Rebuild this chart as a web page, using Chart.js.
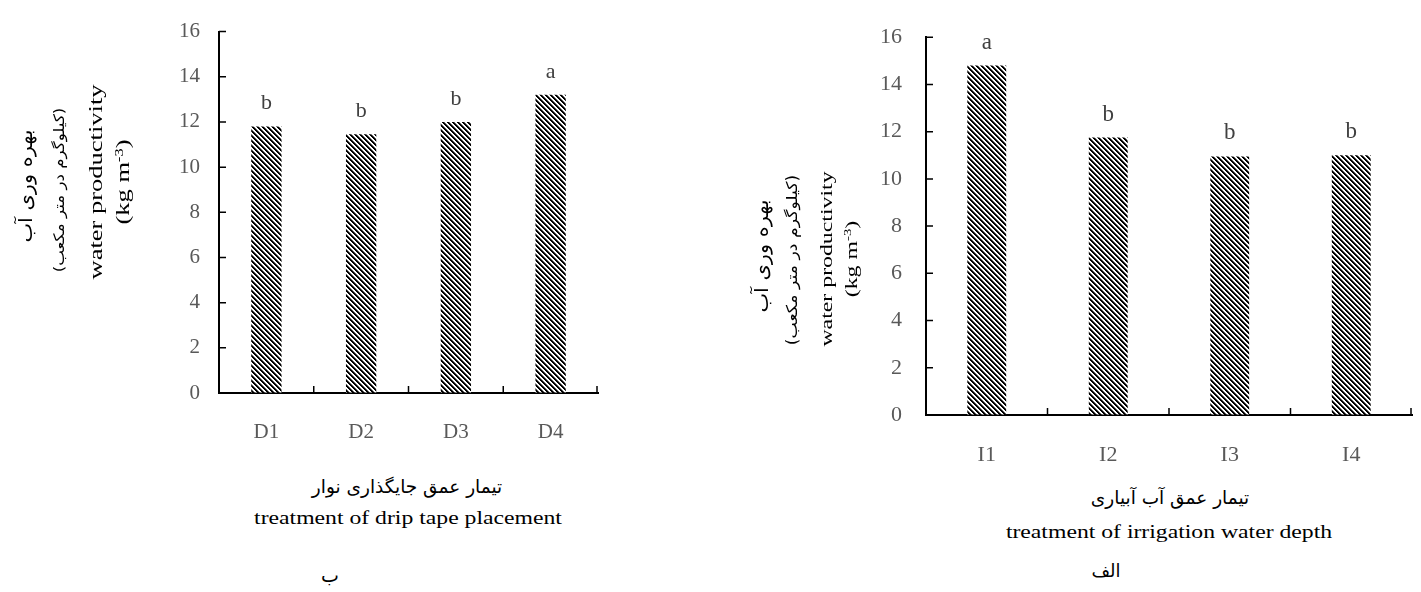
<!DOCTYPE html>
<html>
<head>
<meta charset="utf-8">
<script src="https://cdn.jsdelivr.net/npm/chart.js@4"></script>
<style>
  body { margin: 0; background: #fff; width: 1421px; height: 592px; position: relative; overflow: hidden; }
  canvas { position: absolute; top: 0; }
  .t { position: absolute; white-space: nowrap; font-family: "Liberation Serif", "DejaVu Sans", serif; color: #000; line-height: 1; }
  .fa { font-family: "DejaVu Sans", sans-serif; }
  sup { font-size: 0.62em; vertical-align: 0.55em; line-height: 0; }
</style>
</head>
<body>
<canvas id="chartLeft" width="620" height="470" style="left:0"></canvas>
<canvas id="chartRight" width="721" height="480" style="left:700px"></canvas>

<!-- left panel texts -->
<div class="t fa" style="left:25px;top:186px;font-size:19px;transform:translate(-50%,-50%) rotate(-90deg) scaleX(1.1)">بهره وری آب</div>
<div class="t fa" style="left:59px;top:190px;font-size:14.5px;transform:translate(-50%,-50%) rotate(-90deg) scaleX(1.15)">(کیلوگرم در متر مکعب)</div>
<div class="t" style="left:96px;top:182px;font-size:26.5px;transform:translate(-50%,-50%) rotate(-90deg) scaleY(0.72)">water productivity</div>
<div class="t" style="left:123px;top:182px;font-size:26.5px;transform:translate(-50%,-50%) rotate(-90deg) scaleY(0.72)">(kg m<sup>-3</sup>)</div>
<div class="t fa" style="left:407px;top:487px;font-size:18.5px;transform:translate(-50%,-50%)">تیمار عمق جایگذاری نوار</div>
<div class="t" style="left:408px;top:518px;font-size:23.7px;transform:translate(-50%,-50%) scaleY(0.8)">treatment of drip tape placement</div>
<div class="t fa" style="left:330px;top:575px;font-size:19px;transform:translate(-50%,-50%)">ب</div>

<!-- right panel texts -->
<div class="t fa" style="left:761px;top:256px;font-size:19px;transform:translate(-50%,-50%) rotate(-90deg) scaleX(1.1)">بهره وری آب</div>
<div class="t fa" style="left:792px;top:260px;font-size:15px;transform:translate(-50%,-50%) rotate(-90deg) scaleX(1.15)">(کیلوگرم در متر مکعب)</div>
<div class="t" style="left:827px;top:259px;font-size:23.8px;transform:translate(-50%,-50%) rotate(-90deg) scaleY(0.72)">water productivity</div>
<div class="t" style="left:852px;top:259px;font-size:23.8px;transform:translate(-50%,-50%) rotate(-90deg) scaleY(0.72)">(kg m<sup>-3</sup>)</div>
<div class="t fa" style="left:1170px;top:498px;font-size:18.5px;transform:translate(-50%,-50%)">تیمار عمق آب آبیاری</div>
<div class="t" style="left:1169px;top:532px;font-size:23.7px;transform:translate(-50%,-50%) scaleY(0.8)">treatment of irrigation water depth</div>
<div class="t fa" style="left:1106px;top:571px;font-size:18px;transform:translate(-50%,-50%)">الف</div>

<script>
// DATA
const placementLabels = ['D1', 'D2', 'D3', 'D4'];
const placementValues = [11.8, 11.45, 12.0, 13.2];
const placementLetters = ['b', 'b', 'b', 'a'];

const irrigationLabels = ['I1', 'I2', 'I3', 'I4'];
const irrigationValues = [14.8, 11.75, 10.95, 11.0];
const irrigationLetters = ['a', 'b', 'b', 'b'];

const yMin = 0, yMax = 16, yStep = 2;

// hatch fill like the original bars
function hatch() {
    var c = document.createElement('canvas');
    c.width = 5; c.height = 5;
    var g = c.getContext('2d');
    g.fillStyle = '#fff';
    g.fillRect(0, 0, 5, 5);
    for (var x = 0; x < 5; x++) {
        for (var y = 0; y < 5; y++) {
            var d = ((x - y) % 5 + 5) % 5;
            if (d < 2) { g.fillStyle = '#000'; g.fillRect(x, y, 1, 1); }
            else if (d == 2) { g.fillStyle = '#666'; g.fillRect(x, y, 1, 1); }
        }
    }
    return g.createPattern(c, 'repeat');
}

// inward ticks + significance letters over bars
const extras = {
    id: 'extras',
    afterDraw(chart) {
        var ctx = chart.ctx, a = chart.chartArea;
        var xs = chart.scales.x, ys = chart.scales.y;
        ctx.save();
        ctx.strokeStyle = '#000';
        ctx.lineWidth = 1.5;
        ctx.beginPath();
        ys.ticks.forEach(function (t) {
            var py = ys.getPixelForValue(t.value);
            ctx.moveTo(a.left, py);
            ctx.lineTo(a.left + 7, py);
        });
        var n = xs.ticks.length;
        for (var i = 1; i <= n; i++) {
            var px = i < n ? (xs.getPixelForTick(i - 1) + xs.getPixelForTick(i)) / 2 : a.right - 1;
            ctx.moveTo(px, a.bottom);
            ctx.lineTo(px, a.bottom - 7);
        }
        ctx.stroke();

        var letters = chart.options.plugins.extras.letters;
        ctx.fillStyle = '#404040';
        ctx.font = chart.options.plugins.extras.font;
        ctx.textAlign = 'center';
        ctx.textBaseline = 'middle';
        chart.getDatasetMeta(0).data.forEach(function (bar, i) {
            ctx.fillText(letters[i], bar.x, bar.y - 23);
        });
        ctx.restore();
    }
};

function makeChart(id, labels, values, letters, box, fontSize) {
    var canvas = document.getElementById(id);
    var tickFont = {family: '"Liberation Serif", serif', size: fontSize};
    return new Chart(canvas, {
        type: 'bar',
        data: {
            labels: labels,
            datasets: [{
                data: values,
                backgroundColor: hatch(),
                borderWidth: 0,
                barPercentage: 0.32,
                categoryPercentage: 1
            }]
        },
        options: {
            responsive: false,
            animation: false,
            layout: {padding: {top: box.top, right: canvas.width - box.right, left: 0, bottom: 0}},
            plugins: {
                legend: {display: false},
                tooltip: {enabled: false},
                extras: {letters: letters, font: (fontSize + 1) + 'px "Liberation Serif", serif'}
            },
            scales: {
                x: {
                    grid: {display: true, drawOnChartArea: false, drawTicks: false},
                    border: {color: '#000', width: 2},
                    ticks: {color: '#595959', font: tickFont, padding: 27},
                    afterFit: function (s) { s.height = canvas.height - box.bottom; }
                },
                y: {
                    min: yMin, max: yMax,
                    grid: {display: true, drawOnChartArea: false, drawTicks: false},
                    border: {color: '#000', width: 2},
                    ticks: {stepSize: yStep, color: '#595959', font: tickFont, padding: box.labelGap},
                    afterFit: function (s) { s.width = box.left; }
                }
            }
        },
        plugins: [extras]
    });
}

makeChart('chartLeft', placementLabels, placementValues, placementLetters,
    {left: 219, top: 20, right: 598, bottom: 393, labelGap: 19}, 21);
makeChart('chartRight', irrigationLabels, irrigationValues, irrigationLetters,
    {left: 226, top: 22, right: 712, bottom: 415, labelGap: 24}, 22);
</script>
</body>
</html>
